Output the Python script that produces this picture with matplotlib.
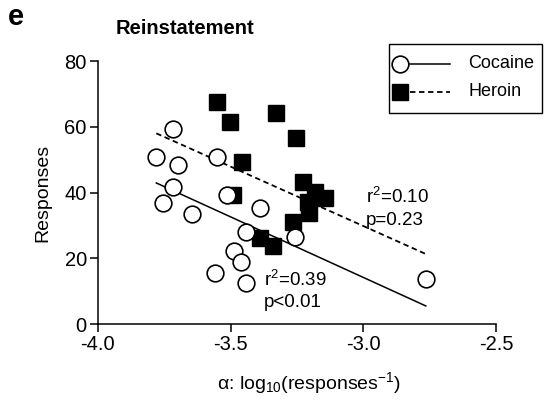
import matplotlib
matplotlib.use('Agg')
import matplotlib.pyplot as plt
from matplotlib.lines import Line2D
from matplotlib.patches import Rectangle

plt.rcParams['font.family'] = ['Liberation Sans', 'DejaVu Sans']
plt.rcParams['mathtext.default'] = 'regular'

# Cocaine (open circles)
cocaine_x = [-3.717, -3.781, -3.698, -3.551, -3.717, -3.755, -3.646, -3.514,
             -3.389, -3.442, -3.487, -3.461, -3.559, -3.442, -3.257, -2.764]
cocaine_y = [59.3, 50.8, 48.4, 50.8, 41.7, 36.8, 33.5, 39.2,
             35.3, 28.0, 22.2, 18.9, 15.5, 12.5, 26.5, 13.7]

# Heroin (filled squares)
heroin_x = [-3.551, -3.502, -3.329, -3.254, -3.457, -3.491, -3.227,
            -3.181, -3.143, -3.208, -3.204, -3.265, -3.389, -3.340]
heroin_y = [67.5, 61.3, 64.3, 56.6, 49.3, 39.2, 43.2,
            40.2, 38.3, 37.1, 33.8, 31.0, 26.3, 23.7]

# regression lines as drawn (endpoints)
cocaine_fit_x = [-3.78, -2.765]
cocaine_fit_y = [42.9, 5.5]
heroin_fit_x = [-3.78, -2.765]
heroin_fit_y = [58.0, 21.3]

xticks = [-4.0, -3.5, -3.0, -2.5]
xticklabels = ['-4.0', '-3.5', '-3.0', '-2.5']
yticks = [0, 20, 40, 60, 80]

W, H = 544, 404
fig = plt.figure(figsize=(W / 100, H / 100), dpi=100)
ax = fig.add_axes([0.180, 0.198, 0.732, 0.651])

dash = (0, (3, 2))
circ = dict(ls='none', marker='o', ms=12, mfc='white', mec='black', mew=1.2)
sq = dict(ls='none', marker='s', ms=12, mfc='black', mec='black')

ax.plot(heroin_fit_x, heroin_fit_y, color='black', lw=1.3, ls=dash)
ax.plot(cocaine_fit_x, cocaine_fit_y, color='black', lw=1.1)
ax.plot(heroin_x, heroin_y, zorder=3, **sq)
ax.plot(cocaine_x, cocaine_y, zorder=4, **circ)

ax.text(-2.99, 38.6, 'r$^2$=0.10', fontsize=13.5, va='center')
ax.text(-2.99, 31.6, 'p=0.23', fontsize=13.5, va='center')
ax.text(-3.375, 13.4, 'r$^2$=0.39', fontsize=13.5, va='center')
ax.text(-3.375, 6.6, 'p<0.01', fontsize=13.5, va='center')

ax.set_xlim(-4.0, -2.5)
ax.set_ylim(0, 80)
ax.set_xticks(xticks)
ax.set_xticklabels(xticklabels)
ax.set_yticks(yticks)
ax.tick_params(labelsize=14.5, width=1.1, length=6, direction='out', pad=2)
for s in ['top', 'right']:
    ax.spines[s].set_visible(False)
for s in ['left', 'bottom']:
    ax.spines[s].set_linewidth(1.1)

ax.set_xlabel('α: log$_{10}$(responses$^{-1}$)', fontsize=14)
ax.xaxis.set_label_coords(0.53, -0.175)
ax.set_ylabel('Responses', fontsize=14)
ax.yaxis.set_label_coords(-0.116, 0.5)

fig.text(0.212, 0.93, 'Reinstatement', fontsize=14.5, fontweight='bold', va='center')
fig.text(0.015, 0.957, 'e', fontsize=21, fontweight='bold', va='center')

# legend box drawn by hand: marker left of line, as in the original
fig.add_artist(Rectangle((389 / W, 1 - 113 / H), 153 / W, 69 / H, fill=False,
                         ec='black', lw=1.0, transform=fig.transFigure))
rows = [('Cocaine', circ, '-', 1.1, 64), ('Heroin', sq, dash, 1.3, 92)]
for label, mk, ls, lw, py in rows:
    yy = 1 - py / H
    fig.add_artist(Line2D([410 / W, 450 / W], [yy, yy], color='black', lw=lw,
                          ls=ls, transform=fig.transFigure))
    fig.add_artist(Line2D([400 / W], [yy], transform=fig.transFigure, **mk))
    fig.text(468 / W, yy, label, fontsize=13, va='center')

fig.savefig('out.png', dpi=100)
